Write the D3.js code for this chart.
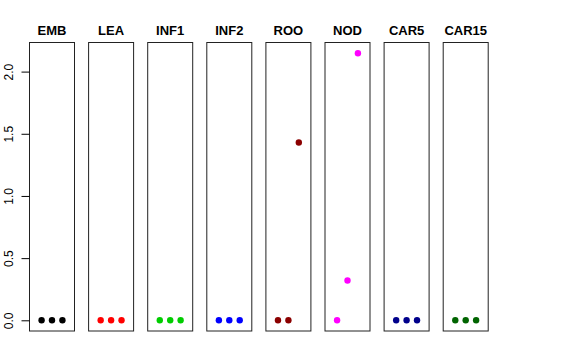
<!DOCTYPE html>
<html><head><meta charset="utf-8">
<script src="https://cdn.jsdelivr.net/npm/d3@7"></script>
<style>body{margin:0;background:#fff}svg{display:block}</style>
</head><body>
<svg id="c" width="576" height="360"></svg>
<script>
const categories = ["EMB","LEA","INF1","INF2","ROO","NOD","CAR5","CAR15"];
const colors = ["#000000","#FF0000","#00CD00","#0000FF","#8B0000","#FF00FF","#00008B","#006400"];
const values = [
  [0,0,0],
  [0,0,0],
  [0,0,0],
  [0,0,0],
  [0,0,1.43],
  [0,0.32,2.148],
  [0,0,0],
  [0,0,0]
];
const yTicks = [0,0.5,1.0,1.5,2.0];

(function(){
const svg = d3.select("#c");
const plotTop = 42.5, plotBottom = 331;
const y = d3.scaleLinear().domain([-0.086, 2.234]).range([plotBottom, plotTop]);
const panel = d3.scaleBand().domain(categories).range([29.5, 488.2]).paddingInner(14.1/59.1).paddingOuter(0);
const x = d3.scaleLinear().domain([-0.16, 4.16]);

categories.forEach((cat, i) => {
  const x0 = panel(cat), w = panel.bandwidth();
  x.range([x0, x0 + w]);
  const g = svg.append("g");
  g.append("rect").attr("x", x0).attr("y", plotTop).attr("width", w).attr("height", plotBottom - plotTop)
    .attr("fill", "none").attr("stroke", "#222").attr("stroke-width", 1);
  g.append("text").attr("x", x0 + w/2).attr("y", 35).attr("text-anchor", "middle")
    .attr("font-family", "Liberation Sans, Arial, sans-serif").attr("font-weight", "bold")
    .attr("font-size", 13).text(cat);
  g.selectAll("circle").data(values[i]).join("circle")
    .attr("cx", (d, j) => x(j + 1)).attr("cy", d => y(d)).attr("r", 3.2)
    .attr("fill", colors[i]);
});

const axis = d3.axisLeft(y).tickValues(yTicks).tickFormat(d3.format(".1f")).tickSize(8).tickPadding(3);
const ag = svg.append("g").attr("transform", "translate(29.5,0)").call(axis);
ag.select(".domain").remove();
ag.selectAll(".tick").each(function(d){
  const t = d3.select(this);
  t.select("line").attr("stroke", "#000");
  t.select("text").attr("font-family", "Liberation Sans, Arial, sans-serif").attr("font-size", 12)
    .attr("fill", "#000").attr("x", 0).attr("dy", null).attr("text-anchor", "middle")
    .attr("transform", "translate(-17,0) rotate(-90)");
});
})();
</script>
</body></html>
